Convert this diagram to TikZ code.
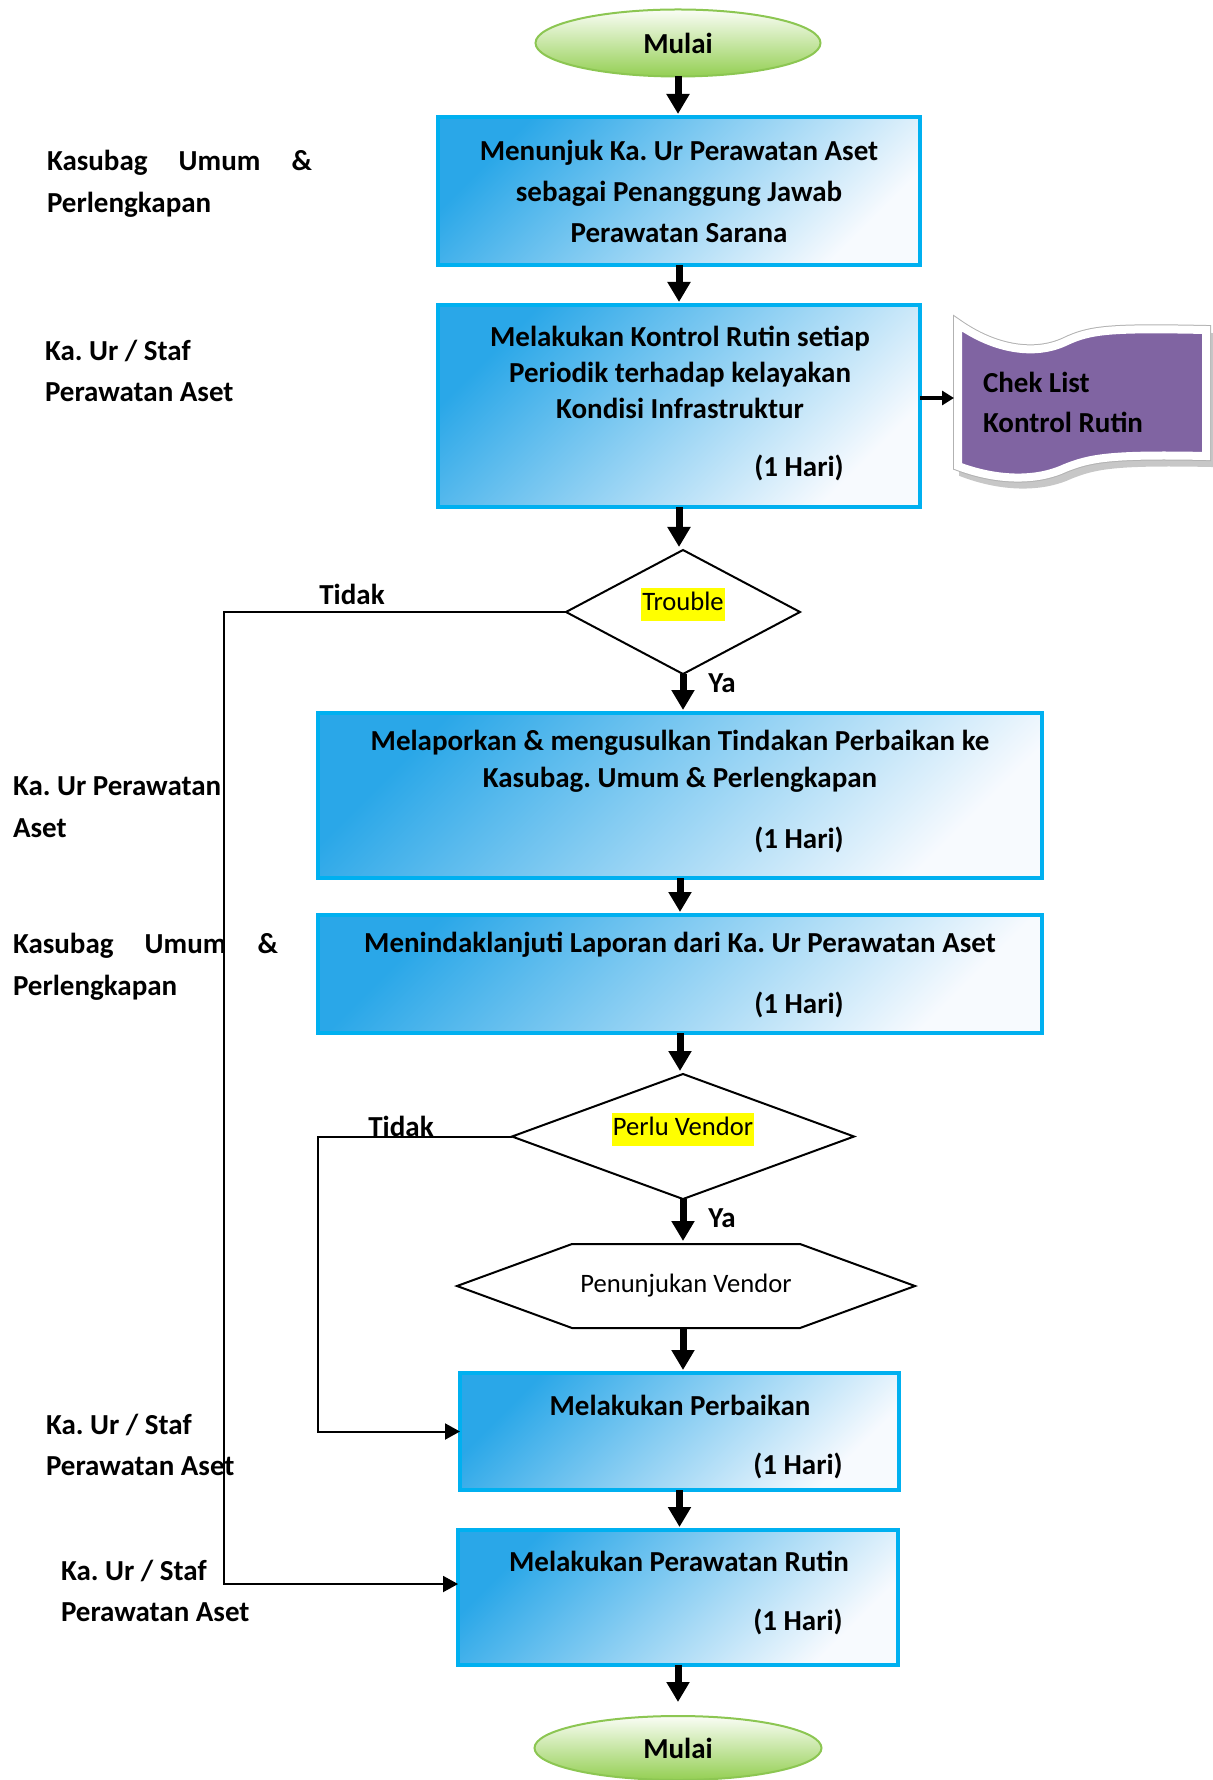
\documentclass[tikz,border=0pt]{standalone}
\usepackage{fontspec}
\setmainfont{Carlito}
\usetikzlibrary{shapes.geometric,arrows.meta}
\definecolor{boxline}{HTML}{00B0F0}
\definecolor{boxtop}{HTML}{2AA7E8}
\definecolor{boxbot}{HTML}{F7FAFE}
\definecolor{ellline}{HTML}{8CC652}
\definecolor{elltop}{HTML}{FAFDF6}
\definecolor{ellbot}{HTML}{94CF53}
\definecolor{docfill}{HTML}{8064A2}
\definecolor{hilite}{HTML}{FFFF00}
\frenchspacing
\begin{document}
\begin{tikzpicture}[x=0.5pt,y=-0.5pt,
  every node/.style={inner sep=0pt, outer sep=0pt},
  procbox/.style={rectangle, draw=boxline, line width=2pt, top color=boxtop, bottom color=boxbot, shading angle=45},
  termnode/.style={ellipse, draw=ellline, line width=1pt, top color=elltop, bottom color=ellbot},
  decision/.style={diamond, draw=black, line width=1pt},
  bt/.style={font=\fontsize{14.5}{20.5}\selectfont\bfseries, align=center},
  bts/.style={font=\fontsize{14.5}{18}\selectfont\bfseries, align=center},
  lbl/.style={font=\fontsize{14.5}{20.75}\selectfont\bfseries, align=left, anchor=west},
  rt/.style={font=\fontsize{13.3}{16}\selectfont},
  hl/.style={rt, fill=hilite, inner xsep=0.5pt, inner ysep=1.5pt, text height=10pt, text depth=3.5pt},
  bigarrow/.style={line width=3.5pt, -{Triangle[width=11pt,length=10pt]}, shorten >=1.5pt},
  smallarrow/.style={line width=2pt, -{Triangle[width=7pt,length=6pt]}, shorten >=2pt},
  thinarrow/.style={line width=1pt, -{Triangle[width=8pt,length=7.5pt]}}
]
\useasboundingbox (0,0) rectangle (1212,1780);

% terminals
\node[termnode, bt, minimum width=142.5pt, minimum height=33.5pt] (start) at (678,43) {Mulai};
\node[termnode, bt, minimum width=143.5pt, minimum height=32pt] (end) at (678,1748) {Mulai};

% process boxes
\node[procbox, bt, minimum width=241pt, minimum height=74pt] (b1) at (679,191)
  {Menunjuk Ka. Ur Perawatan Aset\\sebagai Penanggung Jawab\\Perawatan Sarana};
\node[procbox, minimum width=241pt, minimum height=101pt] (b2) at (679,406) {};
\node[bts] (b2t) at (680,372) {Melakukan Kontrol Rutin setiap\\Periodik terhadap kelayakan\\Kondisi Infrastruktur};
\node[bt] (b2h) at (799,468) {(1 Hari)};

\node[decision, minimum width=117pt, minimum height=62pt] (d1) at (683,612) {};
\node[hl] (d1t) at (683,604) {Trouble};

\node[procbox, minimum width=362pt, minimum height=82.5pt] (b3) at (680,795.5) {};
\node[bts, font=\fontsize{14.5}{18.5}\selectfont\bfseries] (b3t) at (680,761.5) {Melaporkan \& mengusulkan Tindakan Perbaikan ke\\Kasubag. Umum \& Perlengkapan};
\node[bt] (b3h) at (799,840) {(1 Hari)};

\node[procbox, minimum width=362pt, minimum height=59pt] (b4) at (680,974) {};
\node[bt] (b4t) at (680,945) {Menindaklanjuti Laporan dari Ka. Ur Perawatan Aset};
\node[bt] (b4h) at (799,1005) {(1 Hari)};

\node[decision, minimum width=171pt, minimum height=62.5pt] (d2) at (683,1136.5) {};
\node[hl] (d2t) at (683,1129) {Perlu Vendor};

\node[rt, minimum width=229pt, minimum height=42pt] (hex) at (686,1286) {Penunjukan Vendor};
\draw[line width=1pt] (hex.west) -- ([xshift=57.5pt]hex.north west) -- ([xshift=-57.5pt]hex.north east)
  -- (hex.east) -- ([xshift=-57.5pt]hex.south east) -- ([xshift=57.5pt]hex.south west) -- cycle;

\node[procbox, minimum width=219.5pt, minimum height=58.5pt] (b5) at (679.5,1431.5) {};
\node[bt] (b5t) at (680,1405) {Melakukan Perbaikan};
\node[bt] (b5h) at (798,1466) {(1 Hari)};

\node[procbox, minimum width=220pt, minimum height=67.5pt] (b6) at (678,1597.5) {};
\node[bt] (b6t) at (679,1561) {Melakukan Perawatan Rutin};
\node[bt] (b6h) at (798,1622) {(1 Hari)};

% document shape
\path[fill=black!22, draw=black!22, line width=4pt, shift={(5,7)}]
  (958,324) .. controls (995,350) and (1035,356) .. (1065,342)
  .. controls (1090,330) and (1110,328) .. (1206,330) -- (1206,456)
  .. controls (1110,454) and (1090,458) .. (1065,468)
  .. controls (1035,482) and (995,480) .. (958,466) -- cycle;
\path[draw=black!30, line width=5pt]
  (958,324) .. controls (995,350) and (1035,356) .. (1065,342)
  .. controls (1090,330) and (1110,328) .. (1206,330) -- (1206,456)
  .. controls (1110,454) and (1090,458) .. (1065,468)
  .. controls (1035,482) and (995,480) .. (958,466) -- cycle;
\path[fill=docfill, draw=white, line width=4pt]
  (958,324) .. controls (995,350) and (1035,356) .. (1065,342)
  .. controls (1090,330) and (1110,328) .. (1206,330) -- (1206,456)
  .. controls (1110,454) and (1090,458) .. (1065,468)
  .. controls (1035,482) and (995,480) .. (958,466) -- cycle;
\node[minimum width=124pt, minimum height=66pt] (doc) at (1082,398) {};
\node[bt, align=left, anchor=west, font=\fontsize{14.5}{20}\selectfont\bfseries] (doct) at (983,402) {Chek List\\Kontrol Rutin};

% labels
\node[bt] (tidak1) at (352,594) {Tidak};
\node[bt] (ya1) at (722,683) {Ya};
\node[bt] (tidak2) at (401,1126) {Tidak};
\node[bt] (ya2) at (722,1218) {Ya};

\node[lbl] (L1) at (47,184) {\makebox[132.5pt][l]{Kasubag\hfill Umum\hfill\&}\\Perlengkapan};
\node[lbl] (L2) at (45,371) {Ka. Ur / Staf\\Perawatan Aset};
\node[lbl] (L3) at (13,807) {Ka. Ur Perawatan\\Aset};
\node[lbl] (L4) at (13,967) {\makebox[132.5pt][l]{Kasubag\hfill Umum\hfill\&}\\Perlengkapan};
\node[lbl] (L5) at (46,1445) {Ka. Ur / Staf\\Perawatan Aset};
\node[lbl] (L6) at (61,1591) {Ka. Ur / Staf\\Perawatan Aset};

% main flow
\draw[bigarrow] (start.south) -- (start.south |- b1.north);
\draw[bigarrow] (b1.south) -- (b1.south |- b2.north);
\draw[bigarrow] (b2.south) -- (b2.south |- d1.north);
\draw[bigarrow] (d1.south) -- (d1.south |- b3.north);
\draw[bigarrow] (b3.south) -- (b3.south |- b4.north);
\draw[bigarrow] (b4.south) -- (b4.south |- d2.north);
\draw[bigarrow] (d2.south) -- (d2.south |- hex.north);
\draw[bigarrow] (hex.south -| d2) -- (d2 |- b5.north);
\draw[bigarrow] (b5.south) -- (b5.south |- b6.north);
\draw[bigarrow, shorten >=7pt] (b6.south) -- (b6.south |- end.north);
\draw[smallarrow] (b2.east |- doc) -- (doc.west);

% Tidak loops
\coordinate (j1) at (224,612);
\coordinate (j2) at (224,1584);
\draw[thinarrow] (d1.west) -- (j1) -- (j2) -- (b6.west |- j2);
\coordinate (j3) at (318,1136.5);
\draw[thinarrow] (d2.west) -- (j3) |- (b5.west);
\end{tikzpicture}
\end{document}
